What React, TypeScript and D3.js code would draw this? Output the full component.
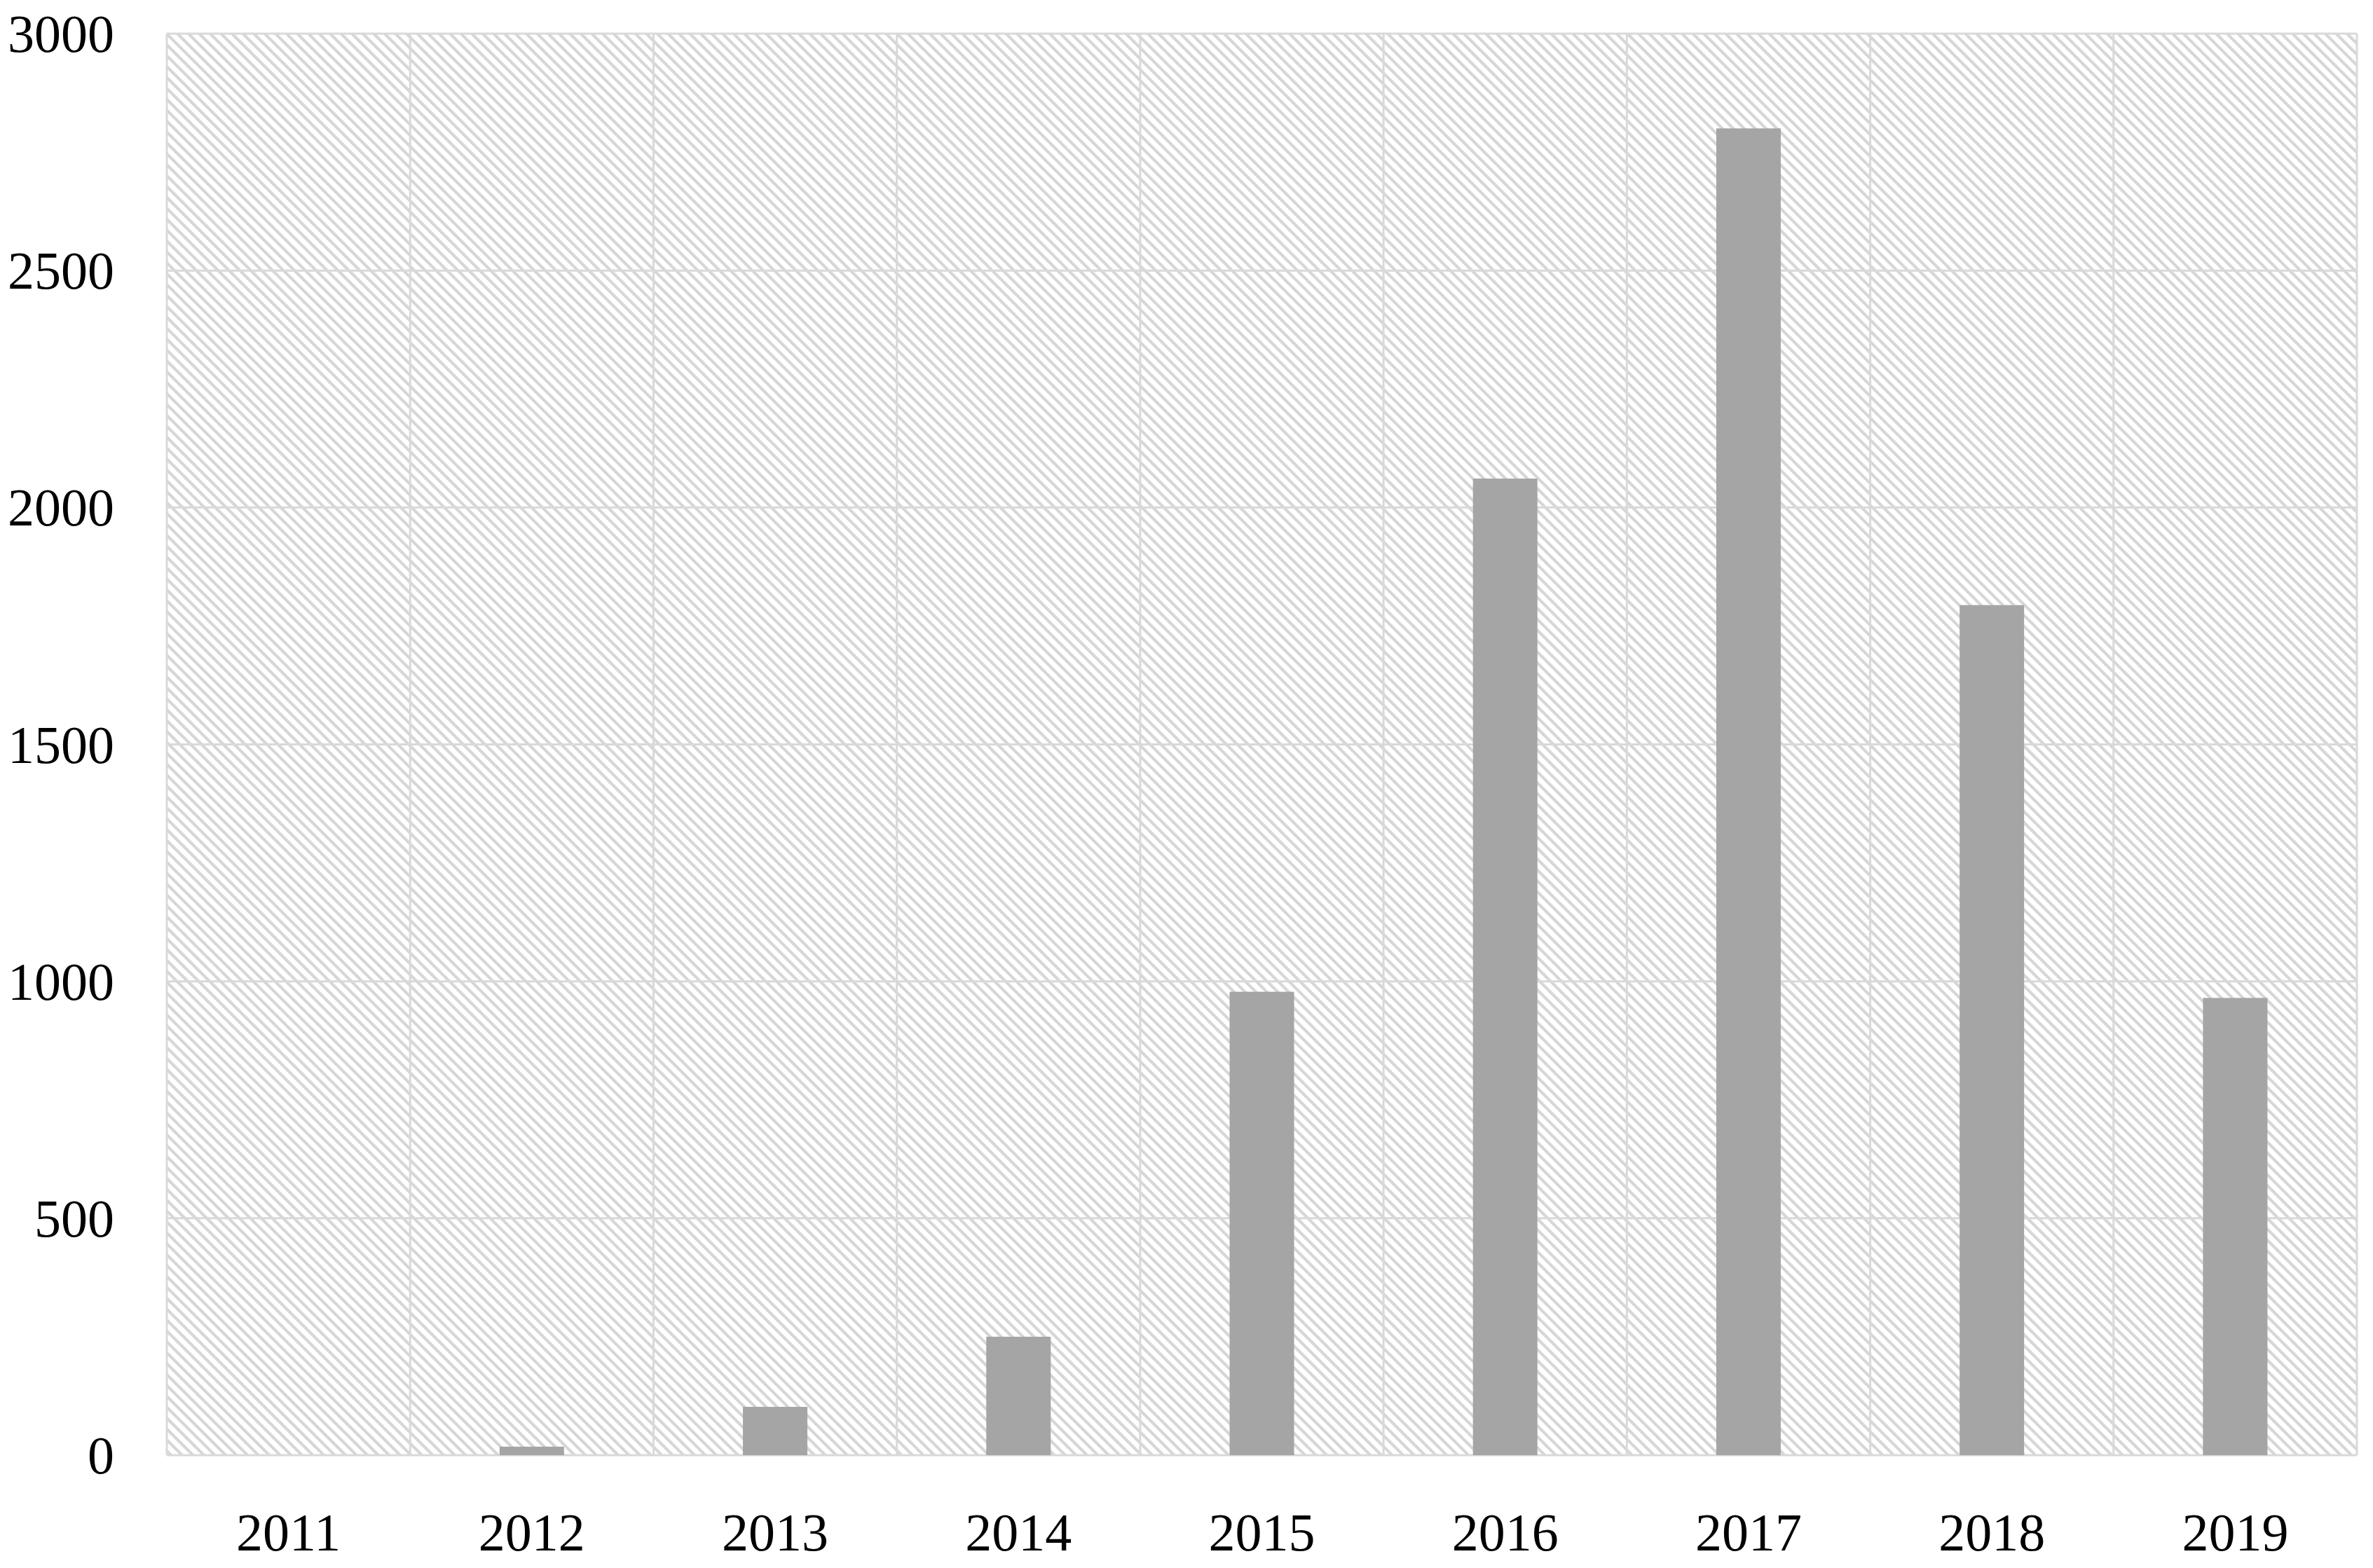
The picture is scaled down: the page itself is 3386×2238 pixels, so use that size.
import React from "react";
import * as d3 from "d3";

const years = ["2011", "2012", "2013", "2014", "2015", "2016", "2017", "2018", "2019"];
const counts = [0, 18, 102, 250, 978, 2061, 2800, 1794, 965];
const yTicks = [0, 500, 1000, 1500, 2000, 2500, 3000];

const W = 3386;
const H = 2238;
const M = { left: 238, right: 23, top: 48, bottom: 161 };

export default function App() {
  const x = d3
    .scaleBand<string>()
    .domain(years)
    .range([M.left, W - M.right])
    .paddingInner(0)
    .paddingOuter(0);
  const y = d3.scaleLinear().domain([0, 3000]).range([H - M.bottom, M.top]);
  const bw = x.bandwidth() * 0.265;
  const font = "'Liberation Serif', 'Times New Roman', serif";
  const gridColor = "#d9d9d9";

  return (
    <svg
      width={W}
      height={H}
      style={{ position: "absolute", left: 0, top: 0, background: "#fff" }}
    >
      <defs>
        <pattern
          id="hatch"
          patternUnits="userSpaceOnUse"
          width={11}
          height={11}
          patternTransform="rotate(-45)"
        >
          <rect x={0} y={0} width={4.2} height={11} fill="#d6d6d6" />
        </pattern>
      </defs>
      <rect
        x={M.left}
        y={M.top}
        width={W - M.left - M.right}
        height={H - M.top - M.bottom}
        fill="url(#hatch)"
      />
      {yTicks.map((t) => (
        <line
          key={"h" + t}
          x1={M.left}
          x2={W - M.right}
          y1={y(t)}
          y2={y(t)}
          stroke={gridColor}
          strokeWidth={3}
        />
      ))}
      {years.concat(["end"]).map((yr, i) => {
        const xx = i < years.length ? (x(yr) as number) : W - M.right;
        return (
          <line
            key={"v" + i}
            x1={xx}
            x2={xx}
            y1={M.top}
            y2={H - M.bottom}
            stroke={gridColor}
            strokeWidth={3}
          />
        );
      })}
      {years.map((yr, i) => {
        const cx = (x(yr) as number) + x.bandwidth() / 2;
        return (
          <rect
            key={"b" + yr}
            x={cx - bw / 2}
            y={y(counts[i])}
            width={bw}
            height={y(0) - y(counts[i])}
            fill="#a5a5a5"
          />
        );
      })}
      {yTicks.map((t) => (
        <text
          key={"yl" + t}
          x={163}
          y={y(t)}
          textAnchor="end"
          dominantBaseline="central"
          fontFamily={font}
          fontSize={76}
          fill="#000"
        >
          {t}
        </text>
      ))}
      {years.map((yr) => (
        <text
          key={"xl" + yr}
          x={(x(yr) as number) + x.bandwidth() / 2}
          y={2213}
          textAnchor="middle"
          fontFamily={font}
          fontSize={76}
          fill="#000"
        >
          {yr}
        </text>
      ))}
    </svg>
  );
}
